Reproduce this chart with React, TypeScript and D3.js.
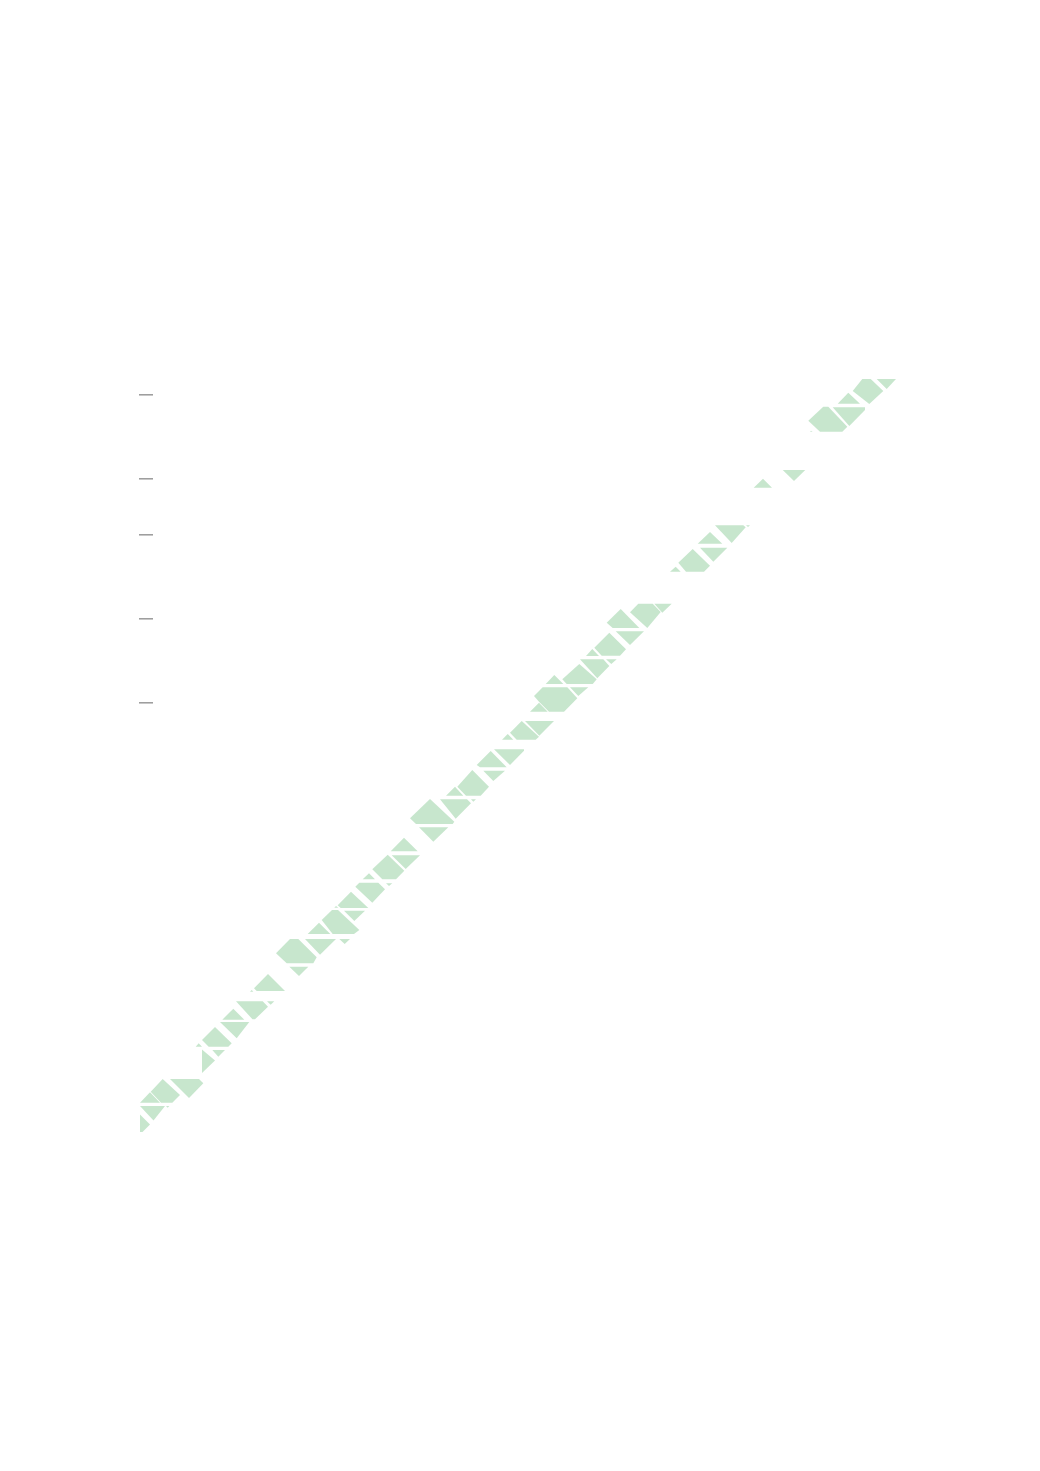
import React from "react";
import * as d3 from "d3";

// Flat [x, y, x, y, ...] vertex lists in chart units, one list per shape.
const segmentA: number[][] = [
  [0,17.5, 10,7.5, 2.5,0, 0,0],
  [0,26, 25,26, 13.5,11.5],
  [26,26, 29.3,26, 27.7,24.3],
  [0,29.3, 10,39.7, 20,29.3],
  [10.7,40.3, 22.7,53, 40,37, 32.3,29.3, 21,29.3],
  [30,53, 59,53, 63.3,48.7, 49,34],
  [62,82.5, 75,71.5, 62,59],
  [55.7,85.3, 58.7,88.7, 62,85.3],
  [72.3,82, 85,82, 78.3,75.3],
  [62,92, 75,105, 91.7,88.7, 88.3,85.3, 68.7,85.3],
  [80,110, 109.3,110, 96.7,93.7],
  [82.3,112.3, 93.3,123.3, 104.3,112.3],
  [96,130.7, 122.7,130.7, 128,125.3, 115,112.7, 112.5,112.7],
  [127,130.7, 134.3,130.7, 130.7,127.3],
  [110,140.3, 111.7,142, 113.3,140.3],
  [114,143.7, 128,158, 145,141, 116.7,141],
  [149.3,165.3, 168.3,165.3, 159,156],
  [136,178.7, 150,193, 158.3,193, 176.7,174.7, 173.3,168.7, 146.7,168.7],
];
const segmentB: number[][] = [
  [165,193, 196,193, 180,177.3],
  [167.7,198, 179,209.3, 190.3,198],
  [181.7,212, 192,222, 198,222, 219.3,202, 214,198, 192.7,198],
  [199.3,193, 210,193, 204.7,188],
  [204,221.3, 225,221.3, 214.3,211],
  [197.7,226.7, 211,240.3, 228.3,224, 200.7,224],
  [194.3,224.3, 196,226, 198.3,224.3],
  [215.3,245.3, 219.3,249.3, 238.3,249.3, 245,242.7, 232.3,229.3],
  [222.7,252.7, 229,258.7, 235,252.7],
  [246,248.7, 252.3,248.7, 249,246],
  [232.3,262.7, 247.7,277.3, 264.3,261.3, 256,252.7, 242.3,252.7],
  [251.7,276.7, 280,276.7, 265.7,263],
  [250.7,280.7, 264,294.3, 277.7,280.7],
  [279,304.7, 308.3,304.7, 293.3,290.3],
  [270,313.7, 290,333, 314.3,310.3, 312.7,308, 276,308],
  [300,332.7, 327,332.7, 331,328.7, 315.7,313.3],
  [306,336.3, 315,345.3, 323.3,336.3],
  [317.3,345.3, 332.3,362, 349,345.3, 340.7,336.3, 326,336.3],
  [331,332.7, 336,332.7, 333.3,330.3],
];
const segmentC: number[][] = [
  [343.3,361.3, 365,361.3, 353.3,351],
  [336.7,367, 350.7,381, 366.7,364.7, 340,364.7],
  [354,382.7, 384,382.7, 384,381.3, 370,367],
  [362,392.3, 367.7,398, 373.3,392.3],
  [370,399.3, 381.7,411, 399,395.3, 395.7,392.3, 376.7,392.3],
  [385,411, 414,411, 399.3,396.3],
  [390,420.3, 399,429.3, 407.7,420.3],
  [394,436, 402.7,444.7, 427.3,444.7, 437.3,433.7, 424,420.3, 409,420.3, 399,430.3],
  [430,444.7, 448.3,444.7, 438.3,436],
  [405.7,448, 414.3,457, 423.3,448],
  [422.3,452.7, 439.3,468, 456.7,452.7, 452.7,448, 426.7,448],
  [440,472.7, 463.3,472.7, 469.3,466, 457.3,453.7],
  [466,472.7, 476.7,472.7, 471.3,468],
  [446,476, 452.3,483, 459,476],
  [454.3,484.3, 469.3,499.3, 486,482.7, 480,476.3, 461.7,476.3],
  [475.7,500.7, 504,500.7, 490,487],
  [466.7,509.3, 480.7,523, 499.3,504, 472.7,504],
  [490,519.7, 498.3,528.3, 512.7,528.3, 520.7,520, 507.3,504],
  [514.3,528.3, 531.7,528.3, 522.3,519.3],
];
const segmentD: number[][] = [
  [530,560.3, 535.7,565.3, 540.7,560.3],
  [538.3,569.3, 552.7,583, 570,566.3, 564,560.3, 546,560.3],
  [560,584.3, 587.3,584.3, 573.3,570.3],
  [557.7,588.3, 570,600, 582.3,588.3],
  [575,606.7, 603.3,606.7, 605.7,604.7, 591.7,589],
  [606,606.7, 610,606.7, 608,605],
  [613.7,644.3, 623,653.3, 632,644.3],
  [642.7,662, 665.3,662, 654,651],
  [670,700.3, 671,701.3, 672.7,700.3],
  [668.3,711.3, 683.3,725.3, 688.3,725.3, 707.3,705.3, 702.3,700.3, 680,700.3],
  [692.7,724.7, 725,724.7, 725,722, 709.3,706],
  [697.7,728.3, 708.3,739.3, 720,728.3],
  [712.7,741, 722.3,753, 730.7,753, 743.3,741, 729.3,728],
  [736.7,753, 756,753, 746.7,743],
];
const tickValues = [737.2, 653.2, 597.2, 513.2, 429.2];
const tickSpan = [-1, 13];

const x = d3.scaleLinear().domain([0, 756]).range([140, 896]);
const y = d3.scaleLinear().domain([0, 753]).range([1132, 379]);
const line = d3.line<number[]>().x((p) => x(p[0])).y((p) => y(p[1])).curve(d3.curveLinearClosed);

const toPath = (flat: number[]) => line(d3.range(0, flat.length, 2).map((i) => [flat[i], flat[i + 1]])) ?? "";

export default function App() {
  const shapes = [...segmentA, ...segmentB, ...segmentC, ...segmentD];
  return (
    <svg width={1040} height={1471} style={{ position: "absolute", left: 0, top: 0, display: "block" }}>
      <g>
        {shapes.map((s, i) => (
          <path key={i} d={toPath(s)} fill="#c7e6cd" />
        ))}
      </g>
      <g>
        {tickValues.map((t) => (
          <line key={t} x1={x(tickSpan[0])} x2={x(tickSpan[1])} y1={y(t)} y2={y(t)} stroke="#999999" strokeWidth={1.5} />
        ))}
      </g>
    </svg>
  );
}
